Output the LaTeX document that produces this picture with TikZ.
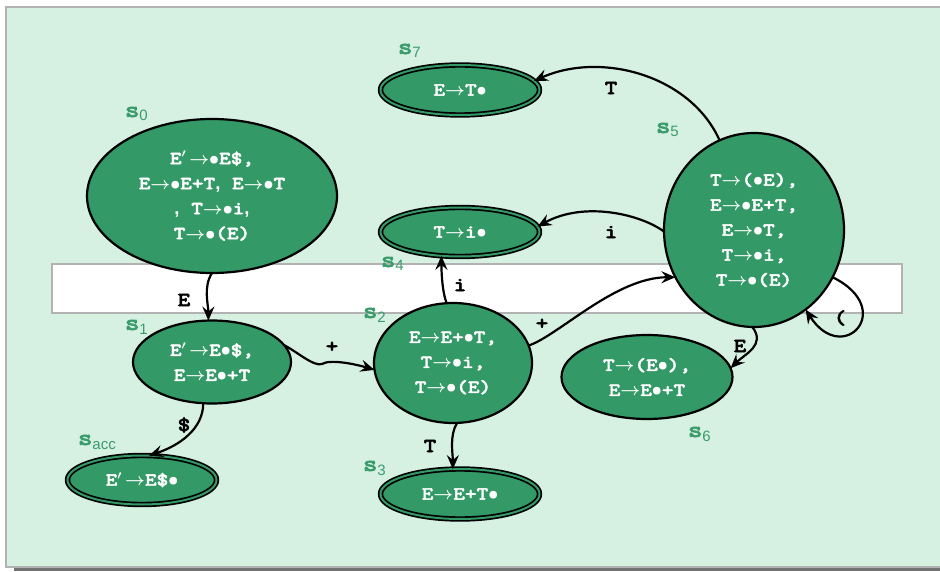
\documentclass[tikz,border=0pt]{standalone}
\usepackage{fontspec}
\usetikzlibrary{shapes.geometric,arrows.meta}
\newfontfamily\monof{lmmonolt10-bold}[Extension=.otf, FakeStretch=1.2, FakeBold=2.2]
\newfontfamily\sansf{Liberation Sans}
\definecolor{stgreen}{RGB}{51,153,102}
\definecolor{bggreen}{RGB}{214,240,226}
\definecolor{lblgreen}{RGB}{58,156,108}
\newcommand{\ra}{{\boldmath$\rightarrow$}}
\newcommand{\dt}{{\boldmath$\bullet$}}
\newcommand{\pr}{{\boldmath$'$}\,}
\newcommand{\cm}{{\sansf\bfseries ,}}
\tikzset{
  every node/.style={inner sep=0pt, outer sep=0pt},
  state/.style={ellipse, draw=black, line width=2.2pt, fill=stgreen, text=white,
    font=\monof\fontsize{18.5}{25}\selectfont, align=center},
  final/.style={state, double=stgreen, double distance=2pt, line width=1.7pt},
  slbl/.style={anchor=base west, text=lblgreen, font=\monof\fontsize{23}{22}\selectfont},
  elbl/.style={text=black, font=\monof\fontsize{20}{20}\selectfont},
  edge/.style={draw=black, line width=2.2pt, -{Stealth[length=14pt,width=12pt,inset=5pt]}},
}
\newcommand{\sub}[1]{\raisebox{-4pt}{\sansf\fontsize{15}{15}\selectfont #1}}
\begin{document}
\begin{tikzpicture}[x=1pt,y=-1pt]
\useasboundingbox (0,0) rectangle (940,572);
% frame
\fill[black!55] (14,11) rectangle (945,571);
\filldraw[fill=bggreen, draw=black!30, line width=1.5pt] (6,7) rectangle (945,567);
\filldraw[fill=white, draw=black!30, line width=1.5pt] (52,264) rectangle (902,313);
% states
\node[state, minimum width=250, minimum height=154] (s0) at (212,196)
  {E\pr\ra\dt E\$,\\E\ra\dt E+T\cm{} E\ra\dt T\\\cm{} T\ra\dt i\cm\\T\ra\dt(E)};
\node[state, minimum width=158, minimum height=83] (s1) at (212,362)
  {E\pr\ra E\dt\$,\\E\ra E\dt+T};
\node[state, minimum width=158, minimum height=120] (s2) at (453,363)
  {E\ra E+\dt T,\\T\ra\dt i,\\T\ra\dt(E)};
\node[state, minimum width=180, minimum height=194] (s5) at (754,230)
  {T\ra(\dt E),\\E\ra\dt E+T,\\E\ra\dt T,\\T\ra\dt i,\\T\ra\dt(E)};
\node[state, minimum width=171, minimum height=84] (s6) at (647,377)
  {T\ra(E\dt),\\E\ra E\dt+T};
\node[final, minimum width=159, minimum height=50] (s7) at (460,90) {E\ra T\dt};
\node[final, minimum width=159, minimum height=49] (s4) at (460,232) {T\ra i\dt};
\node[final, minimum width=159, minimum height=50] (s3) at (460,494) {E\ra E+T\dt};
\node[final, minimum width=149, minimum height=49] (sacc) at (142,480) {E\pr\ra E\$\dt};
% state names
\node[slbl] (n0) at (125,117) {s\sub{0}};
\node[slbl] (n1) at (125,330) {s\sub{1}};
\node[slbl] (n2) at (363,318) {s\sub{2}};
\node[slbl] (n3) at (363,471) {s\sub{3}};
\node[slbl] (n4) at (381,267) {s\sub{4}};
\node[slbl] (n5) at (656,133) {s\sub{5}};
\node[slbl] (n6) at (688,437) {s\sub{6}};
\node[slbl] (n7) at (398,54) {s\sub{7}};
\node[slbl] (nacc) at (78,445) {s\sub{acc}};
% transitions
\draw[edge] (s0.south) .. controls +(-9,14) and +(0,-16) .. (s1.95)
  node[elbl] at (184,300) {E};
\draw[edge] (s1.13) .. controls +(12,6) and +(-8,3) .. (322,364)
  .. controls +(8,-5) and +(-20,-6) .. (s2.185)
  node[elbl] at (332,347) {+};
\draw[edge] (s1.-102) .. controls +(0,26) and +(30,-10) .. (sacc.74)
  node[elbl] at (184,425) {\$};
\draw[edge] (s2.-86) .. controls +(-8,12) and +(0,-15) .. (s3.106)
  node[elbl] at (430,446) {T};
\draw[edge] (s2.96) .. controls +(-5,-12) and +(0,12) .. (s4.-128)
  node[elbl] at (460,285) {i};
\draw[edge] (s2.13) .. controls +(30,-10) and +(-60,0) .. (s5.211)
  node[elbl] at (542,324) {+};
\draw[edge] (s5.111) .. controls +(-29,-65) and +(67,-30) .. (s7.7)
  node[elbl] at (611,88) {T};
\draw[edge] (s5.181) .. controls +(-23,-17) and +(47,-26) .. (s4.4)
  node[elbl] at (611,232) {i};
\draw[edge] (s5.-91) .. controls +(14,18) and +(14,-14) .. (s6.6)
  node[elbl] at (740,346) {E};
\draw[edge] (s5.-31) .. controls +(65,32) and +(37,58) .. (s5.-57)
  node[elbl] at (840,318) {(};
\end{tikzpicture}
\end{document}
